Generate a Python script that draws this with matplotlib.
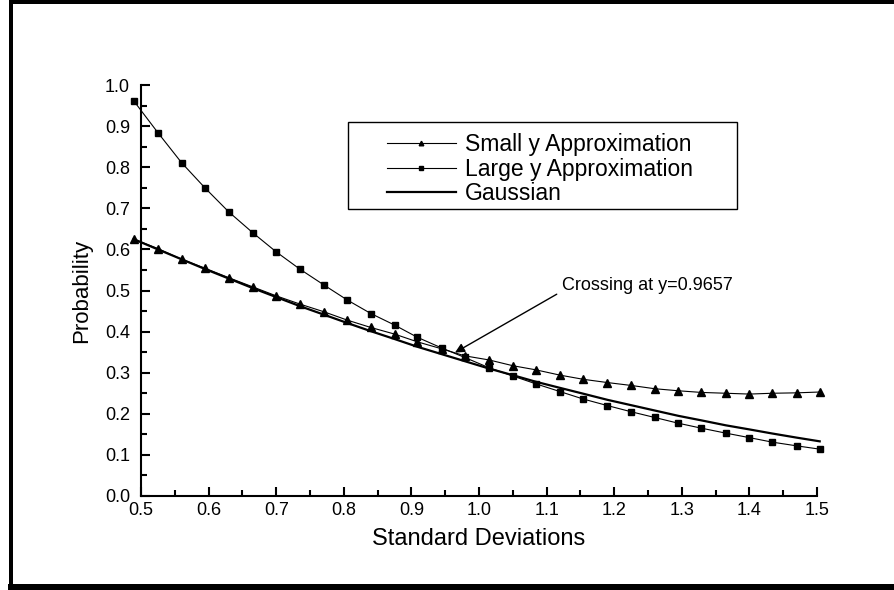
import matplotlib
matplotlib.use('Agg')
from matplotlib import pyplot as plt
from matplotlib.lines import Line2D
from matplotlib.patches import Rectangle

plt.rcParams['font.family'] = ['Liberation Sans', 'DejaVu Sans']

# values
std_devs = [0.489, 0.525, 0.560, 0.595, 0.630, 0.665, 0.700, 0.735, 0.771, 0.805,
            0.840, 0.875, 0.909, 0.945, 0.979, 1.015, 1.050, 1.084, 1.120, 1.154,
            1.190, 1.225, 1.260, 1.295, 1.329, 1.365, 1.400, 1.434, 1.470, 1.504]

small_y = [0.625, 0.602, 0.576, 0.554, 0.531, 0.509, 0.487, 0.467, 0.448, 0.428,
           0.410, 0.394, 0.375, 0.358, 0.341, 0.331, 0.317, 0.307, 0.294, 0.284,
           0.276, 0.269, 0.261, 0.256, 0.252, 0.250, 0.248, 0.250, 0.251, 0.253]

large_y = [0.962, 0.884, 0.811, 0.749, 0.691, 0.641, 0.594, 0.552, 0.513, 0.477,
           0.444, 0.416, 0.386, 0.360, 0.337, 0.312, 0.292, 0.273, 0.254, 0.236,
           0.220, 0.205, 0.191, 0.177, 0.165, 0.153, 0.142, 0.131, 0.122, 0.114]

gaussian = [0.625, 0.600, 0.576, 0.552, 0.529, 0.506, 0.484, 0.462, 0.441, 0.421,
            0.401, 0.382, 0.363, 0.345, 0.328, 0.310, 0.294, 0.278, 0.263, 0.249,
            0.234, 0.221, 0.208, 0.195, 0.184, 0.172, 0.162, 0.152, 0.142, 0.133]

labels = ['Small y Approximation', 'Large y Approximation', 'Gaussian']
crossing_text = 'Crossing at y=0.9657'

fig = plt.figure(figsize=(8.94, 5.90), dpi=100)
ax = fig.add_axes([141 / 894, 94 / 590, 676 / 894, 411 / 590])

ax.plot(std_devs, small_y, color='black', lw=0.8, marker='^', markersize=6,
        label=labels[0], clip_on=False)
ax.plot(std_devs, large_y, color='black', lw=0.8, marker='s', markersize=5,
        label=labels[1], clip_on=False)
ax.plot(std_devs, gaussian, color='black', lw=1.6, label=labels[2], clip_on=False)

ax.set_xlim(0.5, 1.5)
ax.set_ylim(0.0, 1.0)
ax.set_xticks([0.5, 0.6, 0.7, 0.8, 0.9, 1.0, 1.1, 1.2, 1.3, 1.4, 1.5])
ax.set_xticks([0.55, 0.65, 0.75, 0.85, 0.95, 1.05, 1.15, 1.25, 1.35, 1.45], minor=True)
ax.set_yticks([0.0, 0.1, 0.2, 0.3, 0.4, 0.5, 0.6, 0.7, 0.8, 0.9, 1.0])
ax.set_yticks([0.05, 0.15, 0.25, 0.35, 0.45, 0.55, 0.65, 0.75, 0.85, 0.95], minor=True)
ax.xaxis.set_major_formatter(plt.FormatStrFormatter('%.1f'))
ax.yaxis.set_major_formatter(plt.FormatStrFormatter('%.1f'))

ax.spines['top'].set_visible(False)
ax.spines['right'].set_visible(False)
ax.spines['left'].set_linewidth(1.5)
ax.spines['bottom'].set_linewidth(1.5)
ax.tick_params(which='major', direction='in', length=6.5, width=1.5, labelsize=13)
ax.tick_params(which='minor', direction='in', length=4, width=1.5)
ax.tick_params(axis='y', which='major', pad=8)
ax.tick_params(axis='x', which='major', pad=4)

ax.set_xlabel('Standard Deviations', fontsize=17, labelpad=7)
ax.set_ylabel('Probability', fontsize=16, labelpad=9)

ax.annotate('', xy=(0.9645, 0.349), xytext=(1.115, 0.491),
            arrowprops=dict(arrowstyle='-|>', color='black', lw=1,
                            mutation_scale=14, shrinkA=0, shrinkB=0))
ax.text(1.1235, 0.512, crossing_text, fontsize=13, ha='left', va='center')

leg = ax.legend(loc='upper left', bbox_to_anchor=(0.364, 0.882), frameon=False,
                fontsize=16.5, handlelength=3.0, handletextpad=0.4,
                labelspacing=0.05, markerscale=0.55, borderaxespad=0, borderpad=0)
ax.add_patch(Rectangle((0.306, 0.698), 0.576, 0.212, transform=ax.transAxes,
                       fill=False, edgecolor='black', lw=1))

# thick frame around the figure
px = 72 / 100
fig.add_artist(Line2D([11 / 894, 1], [1 - 2 / 590, 1 - 2 / 590], color='black', lw=4 * px))
fig.add_artist(Line2D([11 / 894, 11 / 894], [0, 1], color='black', lw=4 * px))
fig.add_artist(Line2D([11 / 894, 1], [3.5 / 590, 3.5 / 590], color='black', lw=7 * px))

fig.savefig('out.png', dpi=100)
